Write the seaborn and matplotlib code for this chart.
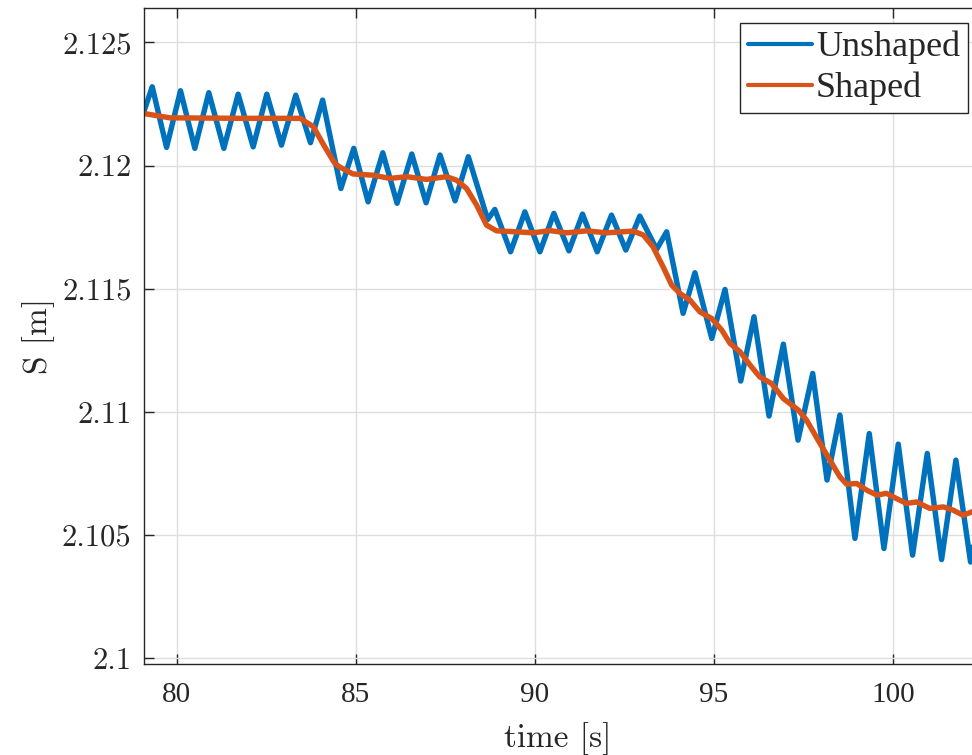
import matplotlib
matplotlib.use("Agg")
import matplotlib.pyplot as plt
import numpy as np
import pandas as pd
import seaborn as sns

# ---- data ----
t_unshaped = [79.06, 79.31, 79.71, 80.10, 80.50, 80.89, 81.31, 81.71, 82.13, 82.51,
              82.92, 83.32, 83.73, 84.07, 84.58, 84.94, 85.34, 85.75, 86.15, 86.56,
              86.96, 87.35, 87.77, 88.14, 88.68, 88.88, 89.32, 89.72, 90.14, 90.53,
              90.95, 91.33, 91.74, 92.14, 92.54, 92.93, 93.40, 93.68, 94.14, 94.47,
              94.94, 95.31, 95.75, 96.12, 96.54, 96.94, 97.35, 97.76, 98.16, 98.52,
              98.94, 99.34, 99.75, 100.15, 100.55, 100.96, 101.36, 101.76, 102.17, 102.40]
s_unshaped = [2.12212, 2.12320, 2.12074, 2.12304, 2.12070, 2.12296, 2.12070, 2.12290, 2.12076, 2.12290,
              2.12083, 2.12286, 2.12093, 2.12266, 2.11907, 2.12070, 2.11853, 2.12052, 2.11847, 2.12047,
              2.11849, 2.12043, 2.11857, 2.12036, 2.11781, 2.11822, 2.11650, 2.11812, 2.11650, 2.11806,
              2.11654, 2.11803, 2.11650, 2.11799, 2.11657, 2.11795, 2.11660, 2.11731, 2.11400, 2.11565,
              2.11298, 2.11497, 2.11125, 2.11386, 2.10983, 2.11275, 2.10885, 2.11156, 2.10723, 2.10987,
              2.10486, 2.10912, 2.10445, 2.10869, 2.10418, 2.10831, 2.10400, 2.10804, 2.10390, 2.10600]

t_shaped = [79.06, 79.80, 81.76, 83.44, 83.81, 84.13, 84.41, 84.55, 84.92, 85.48,
            85.95, 86.42, 86.97, 87.53, 87.81, 88.09, 88.37, 88.65, 88.93, 89.49,
            89.95, 90.42, 90.89, 91.44, 92.00, 92.75, 93.03, 93.30, 93.58, 93.82,
            94.05, 94.33, 94.61, 94.94, 95.22, 95.45, 95.73, 96.01, 96.28, 96.61,
            96.94, 97.36, 97.59, 97.91, 98.24, 98.52, 98.71, 98.99, 99.27, 99.55,
            99.82, 100.10, 100.38, 100.66, 101.03, 101.41, 101.68, 101.96, 102.21]
s_shaped = [2.12212, 2.12194, 2.12192, 2.12192, 2.12158, 2.12076, 2.12009, 2.11994, 2.11966, 2.11961,
            2.11948, 2.11955, 2.11944, 2.11955, 2.11941, 2.11907, 2.11840, 2.11758, 2.11735, 2.11731,
            2.11727, 2.11736, 2.11727, 2.11735, 2.11727, 2.11734, 2.11718, 2.11670, 2.11589, 2.11515,
            2.11481, 2.11454, 2.11406, 2.11379, 2.11332, 2.11278, 2.11244, 2.11190, 2.11142, 2.11115,
            2.11054, 2.11007, 2.10966, 2.10885, 2.10804, 2.10736, 2.10706, 2.10709, 2.10682, 2.10662,
            2.10669, 2.10648, 2.10628, 2.10634, 2.10608, 2.10614, 2.10601, 2.10580, 2.10594]

x_ticks = [80, 85, 90, 95, 100]
x_tick_labels = ["80", "85", "90", "95", "100"]
y_ticks = [2.1, 2.105, 2.11, 2.115, 2.12, 2.125]
y_tick_labels = ["2.1", "2.105", "2.11", "2.115", "2.12", "2.125"]
series_names = ["Unshaped", "Shaped"]

# ---- style ----
sns.set_style("white")
plt.rcParams["font.family"] = ["Liberation Serif", "DejaVu Serif"]
plt.rcParams["axes.unicode_minus"] = False

BLUE = "#0072BD"
ORANGE = "#D95319"
AXC = "#262626"

df = pd.concat([
    pd.DataFrame({"time": t_unshaped, "S": s_unshaped, "series": series_names[0]}),
    pd.DataFrame({"time": t_shaped, "S": s_shaped, "series": series_names[1]}),
])

fig = plt.figure(figsize=(9.72, 7.55), dpi=100)
ax = fig.add_axes([144 / 972, 1 - 664 / 755, 828 / 972, 656 / 755])

sns.lineplot(data=df, x="time", y="S", hue="series", palette=[BLUE, ORANGE],
             sort=False, estimator=None, linewidth=3.9, ax=ax, legend=True)
for ln in ax.get_lines():
    ln.set_solid_joinstyle("round")

ax.set_xlim(79.08, 102.21)
ax.set_ylim(2.09976, 2.12640)

ax.set_xticks(x_ticks)
ax.set_xticklabels(x_tick_labels, fontsize=21, family="Liberation Serif", color=AXC)
ax.set_yticks(y_ticks)
ax.set_yticklabels(y_tick_labels, fontsize=22, family="cmr10", color=AXC)

ax.grid(True, color="#dedede", linewidth=1.0)
ax.set_axisbelow(True)
ax.tick_params(axis="both", direction="in", length=7, width=1, colors=AXC,
               top=True, right=False, bottom=True, left=True)
ax.tick_params(axis="x", pad=13)
ax.tick_params(axis="y", pad=9)

for side in ["left", "bottom", "top"]:
    ax.spines[side].set_color(AXC)
    ax.spines[side].set_linewidth(1.0)
    ax.spines[side].set_visible(True)
ax.spines["right"].set_visible(False)

ax.set_xlabel("time [s]", fontsize=24, family="cmr10", color=AXC, labelpad=10)
ax.set_ylabel("S [m]", fontsize=24, family="cmr10", color=AXC, labelpad=5)

handles, labels = ax.get_legend_handles_labels()
leg = ax.legend(handles, labels, loc="upper right",
                bbox_to_anchor=(968 / 972, 1 - 23 / 755), bbox_transform=fig.transFigure,
                borderaxespad=0, fancybox=False, framealpha=1, edgecolor=AXC,
                prop={"family": "Liberation Serif", "size": 26},
                handlelength=1.75, handletextpad=0.12, labelspacing=0.2, borderpad=0.22)
leg.get_frame().set_linewidth(1.0)
for lh in leg.get_lines():
    lh.set_linewidth(3.0)

fig.savefig("out.png", dpi=100)
